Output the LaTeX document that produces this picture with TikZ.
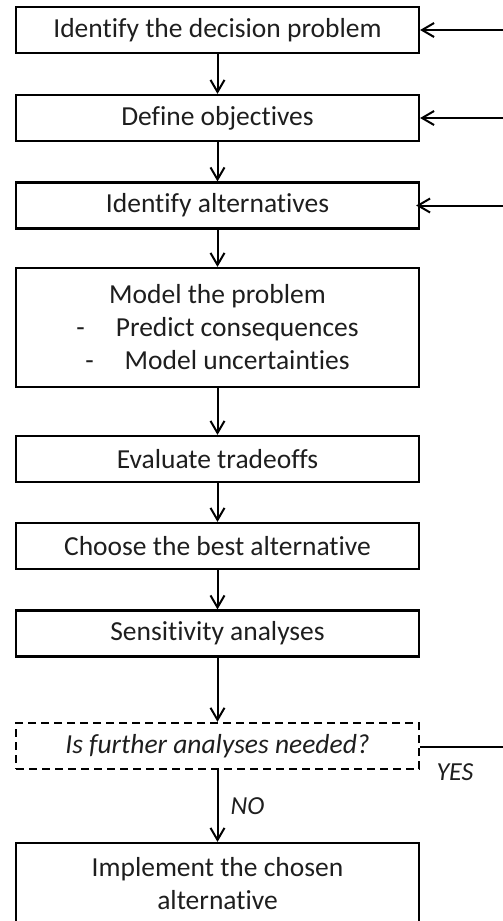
\documentclass[tikz,border=0pt]{standalone}
\usepackage{fontspec}
\setmainfont{Carlito}[Ligatures=NoCommon]
\usetikzlibrary{arrows.meta}
\definecolor{ink}{HTML}{000000}
\definecolor{txt}{HTML}{1E1E1E}
\tikzset{
  box/.style={draw=ink, line width=2.2pt, minimum width=403pt, minimum height=46pt,
    inner sep=0pt, align=center, text=txt, font=\fontsize{27.5}{33}\selectfont},
  qbox/.style={box, dash pattern=on 8pt off 5pt, line width=2.4pt,
    font=\fontsize{27.5}{33}\selectfont\itshape},
  arr/.style={draw=ink, line width=2pt, -{Straight Barb[length=12pt,width=14pt,line width=2pt]}},
  lab/.style={text=txt, font=\fontsize{26}{30}\selectfont\itshape, inner sep=0pt}
}
\begin{document}
\begin{tikzpicture}[x=1pt,y=-1pt]
\useasboundingbox (0,0) rectangle (503,921);
\clip (0,0) rectangle (503,921);
\node[box] (b1) at (217.5,30) {Identify the decision problem};
\node[box] (b2) at (217.5,118) {Define objectives};
\node[box] (b3) at (217.5,205.5) {Identify alternatives};
\node[box, minimum height=119pt] (b4) at (217.5,327.5)
  {Model the problem\\ -\hspace{31pt}Predict consequences\\ -\hspace{31pt}Model uncertainties};
\node[box] (b5) at (217.5,459) {Evaluate tradeoffs};
\node[box] (b6) at (217.5,546) {Choose the best alternative};
\node[box] (b7) at (217.5,633.5) {Sensitivity analyses};
\node[qbox] (b8) at (217.5,746) {Is further analyses needed?};
\node[box, minimum height=82pt] (b9) at (217.5,884) {Implement the chosen\\ alternative};
\coordinate (r1) at (503,30);
\coordinate (r2) at (503,118);
\coordinate (r3) at (503,205.5);
\coordinate (r8) at (503,747);
\draw[arr] (b1) -- (b2);
\draw[arr] (b2) -- (b3);
\draw[arr] (b3) -- (b4);
\draw[arr] (b4) -- (b5);
\draw[arr] (b5) -- (b6);
\draw[arr] (b6) -- (b7);
\draw[arr] (b7) -- (b8);
\draw[arr] (b8) -- node[lab, right=12pt] {NO} (b9);
\draw[arr] (r1) -- (b1.east);
\draw[arr] (r2) -- (b2.east);
\draw[arr] (r3) -- ([xshift=-4pt]b3.east);
\draw[draw=ink, line width=1.6pt] (b8.east |- r8) -- (r8);
\node[lab] (yes) at (455,772) {YES};
\end{tikzpicture}
\end{document}
